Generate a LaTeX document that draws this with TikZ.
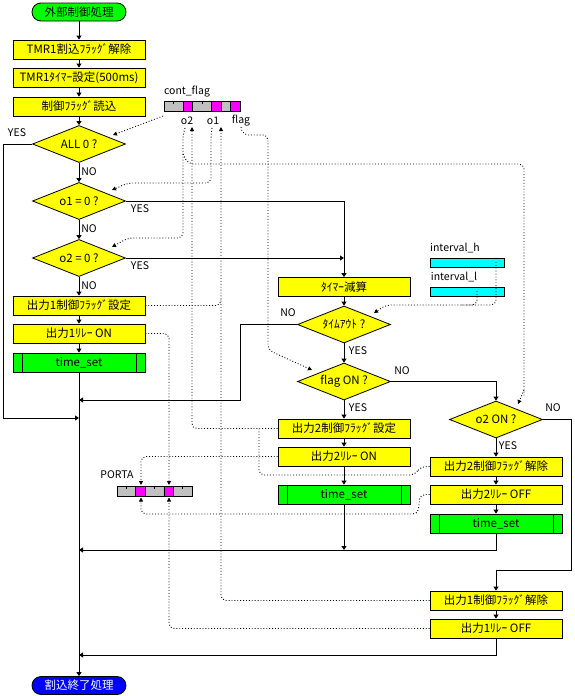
\documentclass[tikz,border=0pt]{standalone}
\usepackage{fontspec}
\setmainfont{Noto Sans CJK JP}
\usetikzlibrary{shapes.geometric,arrows.meta}
\definecolor{reggray}{HTML}{C0C0C0}
\definecolor{regmag}{HTML}{FF00FF}
\definecolor{regcyan}{HTML}{00FFFF}
\definecolor{fcyellow}{HTML}{FFFF00}
\definecolor{fcgreen}{HTML}{00FF00}
\definecolor{fcblue}{HTML}{0000FF}
\begin{document}
\begin{tikzpicture}[x=1pt,y=-1pt,line width=0.8pt,
  font=\fontsize{11.5}{12}\selectfont,
  proc/.style={draw,fill=fcyellow,minimum width=132pt,minimum height=19pt,inner sep=0pt},
  subr/.style={proc,fill=fcgreen,path picture={
    \draw ([xshift=9pt]path picture bounding box.north west)--([xshift=9pt]path picture bounding box.south west);
    \draw ([xshift=-9pt]path picture bounding box.north east)--([xshift=-9pt]path picture bounding box.south east);}},
  dec/.style={draw,fill=fcyellow,diamond,aspect=2.5,inner sep=0pt,minimum width=93pt,minimum height=37pt},
  term/.style={draw,rounded corners=9pt,minimum width=94pt,minimum height=18pt,inner sep=0pt},
  flow/.style={-{Triangle[length=4pt,width=5pt]}},
  data/.style={dotted,line width=0.9pt,rounded corners=5pt},
  dataarr/.style={data,-{Triangle[length=4pt,width=4pt]}},
  lbl/.style={inner sep=0pt,font=\fontsize{10.5}{11}\selectfont}]
\useasboundingbox (0,0) rectangle (574,696);

\node[term,fill=fcgreen] (start) at (79,12) {外部制御処理};
\node[proc] (clrint) at (79,49.5) {TMR1割込ﾌﾗｯｸﾞ解除};
\node[proc] (tmrset) at (79,77.5) {TMR1ﾀｲﾏｰ設定(500ms)};
\node[proc] (rdflag) at (79,106.5) {制御ﾌﾗｯｸﾞ読込};
\node[dec] (all0) at (79,144) {ALL 0 ?};
\node[dec] (o1z) at (79,201) {o1 = 0 ?};
\node[dec] (o2z) at (79,258) {o2 = 0 ?};
\node[proc] (set1) at (79,305.5) {出力1制御ﾌﾗｯｸﾞ設定};
\node[proc] (on1) at (79,333.5) {出力1ﾘﾚｰ ON};
\node[subr] (ts1) at (79,362.5) {time\_set};
\node[term,fill=fcblue,text=white] (stop) at (79,685.5) {割込終了処理};

\node[proc] (tdec) at (344,287) {ﾀｲﾏｰ減算};
\node[dec] (tout) at (344,324.5) {ﾀｲﾑｱｳﾄ ?};
\node[dec] (flgon) at (344,381.5) {flag ON ?};
\node[proc] (set2) at (344,428.5) {出力2制御ﾌﾗｯｸﾞ設定};
\node[proc] (on2) at (344,456.5) {出力2ﾘﾚｰ ON};
\node[subr] (ts2) at (344,494.5) {time\_set};

\node[dec] (o2on) at (496,419.5) {o2 ON ?};
\node[proc] (clr2) at (496,466.5) {出力2制御ﾌﾗｯｸﾞ解除};
\node[proc] (off2) at (496,494.5) {出力2ﾘﾚｰ OFF};
\node[subr] (ts3) at (496,523.5) {time\_set};
\node[proc] (clr1) at (496,600.5) {出力1制御ﾌﾗｯｸﾞ解除};
\node[proc] (off1) at (496,628.5) {出力1ﾘﾚｰ OFF};

\coordinate (j1) at (79,400);
\coordinate (j2) at (79,418);
\coordinate (j3) at (79,550);
\coordinate (j4) at (79,655);
\coordinate (j5) at (344,258);
\coordinate (k1) at (571,570);

\draw[flow] (start) -- (clrint);
\draw[flow] (clrint) -- (tmrset);
\draw[flow] (tmrset) -- (rdflag);
\draw[flow] (rdflag) -- (all0);
\draw[flow] (all0) -- (o1z);
\draw[flow] (o1z) -- (o2z);
\draw[flow] (o2z) -- (set1);
\draw[flow] (set1) -- (on1);
\draw[flow] (on1) -- (ts1);
\draw[flow] (ts1) -- (stop);
\draw[flow] (all0.west) -- ++(-29,0) |- (j2);
\draw[flow] (o1z.east) -| (tdec);
\draw[flow] (o2z.east) -- (j5);
\draw[flow] (tdec) -- (tout);
\draw[flow] (tout.west) -- (240,324.5) |- (j1);
\draw[flow] (tout) -- (flgon);
\draw[flow] (flgon) -- (set2);
\draw[flow] (set2) -- (on2);
\draw[flow] (on2) -- (ts2);
\draw[flow] (ts2) -- (344,550);
\draw[flow] (flgon.east) -| (o2on);
\draw[flow] (o2on) -- (clr2);
\draw[flow] (clr2) -- (off2);
\draw[flow] (off2) -- (ts3);
\draw[flow] (ts3) |- (j3);
\draw[flow] (o2on.east) -| (k1) -| (clr1);
\draw[flow] (clr1) -- (off1);
\draw[flow] (off1) |- (j4);

\node[lbl] at (17,133) {YES};
\node[lbl] at (89,172) {NO};
\node[lbl] at (140,209) {YES};
\node[lbl] at (89,229) {NO};
\node[lbl] at (140,266) {YES};
\node[lbl] at (89,286) {NO};
\node[lbl] at (288,313) {NO};
\node[lbl] at (358,351) {YES};
\node[lbl] at (402,371) {NO};
\node[lbl] at (358,408) {YES};
\node[lbl] at (553,408) {NO};
\node[lbl] at (508,446) {YES};

\node[lbl] (cflbl) at (187,92) {cont\_flag};
\fill[reggray] (164,101) rectangle (240,111);
\fill[regmag] (183,101) rectangle (192.5,111) (211.5,101) rectangle (221,111) (230.5,101) rectangle (240,111);
\draw (164,101) rectangle (240,111);
\foreach \x in {183,192.5,211.5,221,230.5} \draw (\x,101) -- (\x,111);
\foreach \x in {173.5,202} \draw (\x,101) -- (\x,104);
\node[lbl] (bo2) at (187,121) {o2};
\node[lbl] (bo1) at (213,121) {o1};
\node[lbl] (bflag) at (241,121) {flag};
\coordinate (cfreg) at (163,116);

\node[lbl] (palbl) at (117,475) {PORTA};
\fill[reggray] (117,486) rectangle (192,496);
\fill[regmag] (135.75,486) rectangle (145.1,496) (163.9,486) rectangle (173.25,496);
\draw (117,486) rectangle (192,496);
\foreach \x in {135.75,145.1,163.9,173.25} \draw (\x,486) -- (\x,496);
\foreach \x in {126.4,154.5,182.6} \draw (\x,486) -- (\x,489);

\node[lbl] (ihlbl) at (455,248) {interval\_h};
\node[lbl] (illbl) at (454,277) {interval\_l};
\draw[fill=regcyan] (430,258) rectangle (504,267);
\draw[fill=regcyan] (430,287) rectangle (504,296);

\draw[dataarr] (cfreg) -- (113,135);
\draw[dataarr] (185,128) -- (183,135) -- (183,238) -- (128,238) -- (112,247);
\draw[data] (183,154) -- (188,164) -- (524,164) -- (524,396);
\draw[dataarr] (524,390) -- (518,404);
\draw[dataarr] (212,128) -- (211,135) -- (211,183) -- (128,183) -- (112,190);
\draw[dataarr] (bflag.south) -- (243,135) -- (268,135) -- (268,350) -- (312,370);
\draw[dataarr] (clr1.west) -| (221,127);
\draw[data] (set1.east) -| (221,298);
\draw[dataarr] (set2.west) -| (192,127);
\draw[data] (clr2.west) -- (420,467) -- (415,475) -- (259,475) -- (259,428.5);
\draw[dataarr] (496,262) -- (496,305) -- (386,305) -- (374,313);
\draw[data] (477,291) |- (460,305);
\draw[dataarr] (on1.east) -| (169,485);
\draw[dataarr] (on2.west) -| (141,485);
\draw[dataarr] (off2.west) -- (420,494.5) -- (418,514) -- (141,514) -- (141,497.5);
\draw[dataarr] (off1.west) -| (169,497.5);
\end{tikzpicture}
\end{document}
